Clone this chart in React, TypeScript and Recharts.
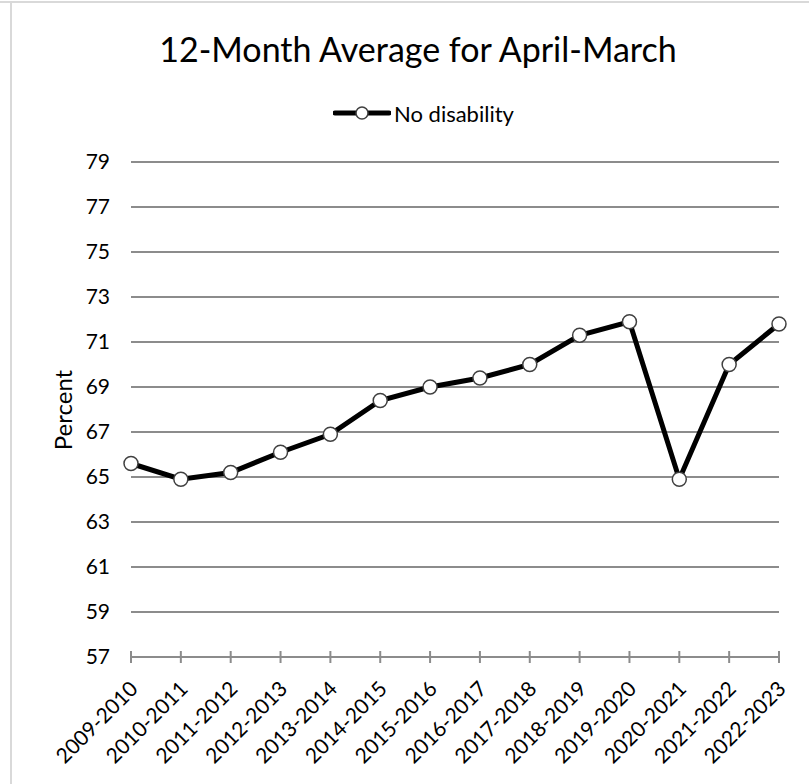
import { LineChart, Line, XAxis, YAxis, CartesianGrid } from 'recharts';

const years = [
  '2009-2010', '2010-2011', '2011-2012', '2012-2013', '2013-2014', '2014-2015', '2015-2016',
  '2016-2017', '2017-2018', '2018-2019', '2019-2020', '2020-2021', '2021-2022', '2022-2023'
];
const noDisability = [65.6, 64.9, 65.2, 66.1, 66.9, 68.4, 69.0, 69.4, 70.0, 71.3, 71.9, 64.9, 70.0, 71.8];
const yTicks = [57, 59, 61, 63, 65, 67, 69, 71, 73, 75, 77, 79];

const FONT = 'Lato, "Open Sans", sans-serif';
const GRID = '#8c8c8c';

const data = years.map((year, i) => ({ year, value: noDisability[i] }));

// x tick: small cross mark on the axis plus slanted label
const XTick = (props: any) => {
  const { x, y, payload } = props;
  return (
    <g>
      <line x1={x} x2={x} y1={y - 6} y2={y + 6} stroke={GRID} strokeWidth={2} />
      <text
        transform={`translate(${x + 3},${y + 28}) rotate(-45)`}
        textAnchor="end"
        dy="0.35em"
        fontFamily={FONT}
        fontSize={21}
        fill="#000"
      >
        {payload.value}
      </text>
    </g>
  );
};

export default function App() {
  return (
    <div style={{ position: 'absolute', left: 0, top: 0, width: 809, height: 784, background: '#fff', overflow: 'hidden' }}>
      <div style={{ position: 'absolute', left: 0, top: 1, width: 809, height: 2, background: '#d9d9d9' }} />
      <div style={{ position: 'absolute', left: 10, top: 1, width: 2, height: 783, background: '#d9d9d9' }} />

      <div
        style={{
          position: 'absolute', left: 8, width: 820, top: 28, textAlign: 'center',
          fontFamily: FONT, fontSize: 34, lineHeight: '41px', color: '#000'
        }}
      >
        12-Month Average for April-March
      </div>

      <div style={{ position: 'absolute', left: 333, top: 99, height: 28, display: 'flex', alignItems: 'center', fontFamily: FONT, fontSize: 22 }}>
        <svg width={58} height={20}>
          <line x1={2} x2={56} y1={10} y2={10} stroke="#000" strokeWidth={5} strokeLinecap="round" />
          <circle cx={29} cy={10} r={6} fill="#fff" stroke="#404040" strokeWidth={1.5} />
        </svg>
        <span style={{ marginLeft: 3 }}>No disability</span>
      </div>

      <div
        style={{
          position: 'absolute', left: 62, top: 410, transform: 'translate(-50%, -50%) rotate(-90deg)',
          fontFamily: FONT, fontSize: 24, whiteSpace: 'nowrap'
        }}
      >
        Percent
      </div>

      <div style={{ position: 'absolute', left: 0, top: 0 }}>
        <LineChart width={809} height={784} data={data} margin={{ top: 162, right: 30, bottom: 0, left: 0 }}>
          <CartesianGrid vertical={false} stroke={GRID} strokeWidth={2} />
          <XAxis
            dataKey="year"
            height={127}
            interval={0}
            axisLine={{ stroke: GRID, strokeWidth: 2 }}
            tickLine={false}
            tickSize={0}
            tickMargin={0}
            tick={<XTick />}
          />
          <YAxis
            width={131}
            domain={[57, 79]}
            ticks={yTicks}
            interval={0}
            axisLine={false}
            tickLine={false}
            tickSize={0}
            tickMargin={21}
            tick={{ fontFamily: FONT, fontSize: 21, fill: '#000' }}
          />
          <Line
            type="linear"
            dataKey="value"
            stroke="#000"
            strokeWidth={5}
            dot={{ r: 7, fill: '#fff', stroke: '#404040', strokeWidth: 1.5 }}
            isAnimationActive={false}
          />
        </LineChart>
      </div>
    </div>
  );
}
